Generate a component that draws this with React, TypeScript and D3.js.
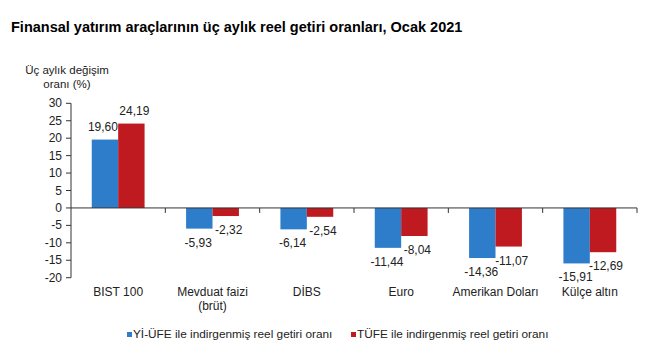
import React from "react";
import * as d3 from "d3";

const categories = ["BIST 100", "Mevduat faizi|(brüt)", "DİBS", "Euro", "Amerikan Doları", "Külçe altın"];
const seriesNames = ["Yİ-ÜFE ile indirgenmiş reel getiri oranı", "TÜFE ile indirgenmiş reel getiri oranı"];
const yiufe = [19.6, -5.93, -6.14, -11.44, -14.36, -15.91];
const tufe = [24.19, -2.32, -2.54, -8.04, -11.07, -12.69];
const yTicks = [30, 25, 20, 15, 10, 5, 0, -5, -10, -15, -20];
const colors = ["#2E7DCB", "#BE1A1F"];

const W = 670;
const H = 360;
const FONT = "'Liberation Sans', Arial, sans-serif";

export default function App() {
  const y = d3.scaleLinear().domain([-20, 30]).range([277.7, 103.3]);
  const x0 = d3.scaleBand<string>().domain(categories).range([71, 637]).paddingInner(0.44).paddingOuter(0.22);
  const x1 = d3.scaleBand<number>().domain([0, 1]).range([0, x0.bandwidth()]);
  const step = x0.step();
  const series = [yiufe, tufe];
  const fmt = (v: number) => d3.format(".2f")(v).replace(".", ",").replace("\u2212", "-");
  const y0 = y(0);

  return (
    <svg width={W} height={H} style={{ position: "absolute", left: 0, top: 0 }} fontFamily={FONT}>
      <rect width={W} height={H} fill="#fff" />
      <text x={11} y={32} fontSize={14.5} fontWeight="bold" fill="#000">
        Finansal yatırım araçlarının üç aylık reel getiri oranları, Ocak 2021
      </text>
      <text x={67} y={74} fontSize={11.5} textAnchor="middle" fill="#222">Üç aylık değişim</text>
      <text x={67} y={88} fontSize={11.5} textAnchor="middle" fill="#222">oranı (%)</text>

      {/* y axis */}
      <line x1={71} x2={71} y1={y(30)} y2={y(-20)} stroke="#333" />
      {yTicks.map((t) => (
        <g key={t}>
          <line x1={66} x2={71} y1={y(t)} y2={y(t)} stroke="#333" />
          <text x={62} y={y(t) + 4} fontSize={12} textAnchor="end" fill="#222">{t}</text>
        </g>
      ))}

      {/* bars */}
      {categories.map((c, i) => (
        <g key={c}>
          {series.map((s, k) => {
            const v = s[i];
            const bx = (x0(c) ?? 0) + (x1(k) ?? 0);
            const bw = x1.bandwidth();
            const top = Math.min(y(v), y0);
            const h = Math.abs(y(v) - y0);
            const ly = v >= 0 ? y(v) - 9 : y(v) + 18;
            const dx = v >= 0 ? (k === 1 ? 3 : -2) : (k === 1 ? 3 : -1);
            return (
              <g key={k}>
                <rect x={bx} y={top} width={bw} height={h} fill={colors[k]} />
                <text x={bx + bw / 2 + dx} y={ly} fontSize={12} textAnchor="middle" fill="#222">
                  {fmt(v)}
                </text>
              </g>
            );
          })}
        </g>
      ))}

      {/* zero line and category ticks */}
      <line x1={71} x2={637} y1={y0} y2={y0} stroke="#333" />
      {categories.map((c, i) => (
        <line key={"t" + c} x1={71 + step * (i + 1)} x2={71 + step * (i + 1)} y1={y0} y2={y0 + 5} stroke="#333" />
      ))}

      {/* category labels */}
      {categories.map((c) => {
        const lines = c.split("|");
        const cx = (x0(c) ?? 0) + x0.bandwidth() / 2;
        return lines.map((l, j) => (
          <text key={c + j} x={cx} y={296 + j * 14} fontSize={12} textAnchor="middle" fill="#222">{l}</text>
        ));
      })}

      {/* legend */}
      {[127, 351].map((lx, k) => (
        <g key={"lg" + k}>
          <rect x={lx} y={332} width={5} height={5} fill={colors[k]} />
          <text x={lx + 6} y={338} fontSize={11.8} fill="#222">{seriesNames[k]}</text>
        </g>
      ))}
    </svg>
  );
}
